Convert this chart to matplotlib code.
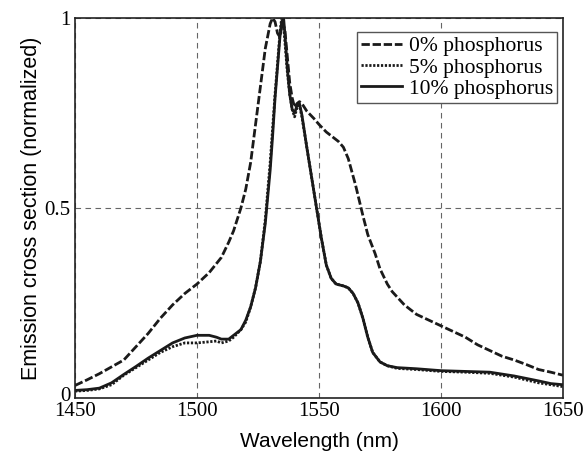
import numpy as np
import matplotlib
matplotlib.use("Agg")
import matplotlib.pyplot as plt
from matplotlib.transforms import ScaledTranslation

# 0% phosphorus
wl0 = [1450, 1455, 1460, 1465, 1470, 1475, 1480, 1485, 1490, 1495, 1500, 1505, 1510, 1513, 1515,
       1518, 1520, 1522, 1524, 1526, 1528, 1530, 1531, 1532, 1533, 1534, 1535, 1536, 1537, 1538,
       1539, 1540, 1541, 1542, 1543, 1545, 1548, 1550, 1553, 1556, 1558, 1560, 1562, 1565, 1568,
       1570, 1573, 1575, 1578, 1580, 1585, 1590, 1595, 1600, 1605, 1610, 1615, 1620, 1625, 1630,
       1635, 1640, 1645, 1650]
cs0 = [0.033, 0.048, 0.064, 0.082, 0.10, 0.135, 0.17, 0.21, 0.245, 0.275, 0.30, 0.33, 0.37, 0.41, 0.44,
       0.50, 0.55, 0.62, 0.72, 0.82, 0.92, 0.985, 1.0, 0.99, 0.96, 0.95, 0.99, 0.97, 0.90, 0.83,
       0.79, 0.765, 0.775, 0.78, 0.775, 0.755, 0.735, 0.72, 0.70, 0.685, 0.675, 0.66, 0.63, 0.56, 0.48,
       0.43, 0.38, 0.34, 0.30, 0.28, 0.245, 0.22, 0.205, 0.19, 0.175, 0.16, 0.14, 0.125, 0.11, 0.10,
       0.088, 0.075, 0.068, 0.06]

# 5% phosphorus
wl5 = [1450, 1455, 1460, 1465, 1470, 1475, 1480, 1485, 1490, 1495, 1500, 1505, 1508, 1510, 1513,
       1515, 1518, 1520, 1522, 1524, 1526, 1528, 1530, 1531, 1532, 1533, 1534, 1534.7, 1535.5, 1536,
       1537, 1538, 1539, 1540, 1541, 1542, 1543, 1545, 1547, 1549, 1551, 1553, 1555, 1557, 1560,
       1562, 1564, 1566, 1568, 1570, 1572, 1575, 1578, 1582, 1590, 1600, 1610, 1620, 1630, 1640,
       1645, 1650]
cs5 = [0.018, 0.02, 0.024, 0.035, 0.06, 0.08, 0.10, 0.12, 0.135, 0.145, 0.145, 0.148, 0.15, 0.145, 0.15,
       0.16, 0.18, 0.20, 0.24, 0.29, 0.36, 0.47, 0.62, 0.71, 0.80, 0.88, 0.96, 1.0, 0.98, 0.94,
       0.86, 0.80, 0.76, 0.74, 0.765, 0.77, 0.74, 0.66, 0.58, 0.50, 0.42, 0.35, 0.315, 0.30, 0.295,
       0.29, 0.275, 0.25, 0.21, 0.16, 0.12, 0.095, 0.085, 0.078, 0.075, 0.07, 0.068, 0.065, 0.055, 0.04,
       0.035, 0.03]

# 10% phosphorus
wl10 = wl5
cs10 = [0.02, 0.022, 0.026, 0.04, 0.062, 0.083, 0.105, 0.125, 0.145, 0.158, 0.165, 0.165, 0.16, 0.155, 0.155,
        0.165, 0.18, 0.205, 0.24, 0.29, 0.36, 0.46, 0.60, 0.69, 0.79, 0.87, 0.95, 0.99, 1.0, 0.96,
        0.87, 0.80, 0.76, 0.75, 0.77, 0.775, 0.745, 0.66, 0.58, 0.50, 0.42, 0.35, 0.315, 0.30, 0.295,
        0.29, 0.275, 0.25, 0.21, 0.16, 0.12, 0.095, 0.085, 0.08, 0.077, 0.072, 0.07, 0.068, 0.058, 0.045,
        0.038, 0.035]

labels = ["0% phosphorus", "5% phosphorus", "10% phosphorus"]
xticks = [1450, 1500, 1550, 1600, 1650]
yticks = [0, 0.5, 1]
yticklabels = ["0", "0.5", "1"]

fig = plt.figure(figsize=(5.83, 4.54), dpi=100)
ax = fig.add_axes([0.1286, 0.1233, 0.8371, 0.8370])

col = "#1a1a1a"
ax.plot(wl0, cs0, color=col, lw=2.0, linestyle=(0, (3, 1)), label=labels[0])
ax.plot(wl5, cs5, color=col, lw=2.0, linestyle=(0, (0.8, 0.6)), label=labels[1])
ax.plot(wl10, cs10, color=col, lw=2.0, linestyle="-", label=labels[2])

ax.set_xlim(1450, 1650)
ax.set_ylim(0, 1)
ax.set_xticks(xticks)
ax.set_yticks(yticks)
ax.set_yticklabels(yticklabels)
ax.tick_params(length=0, labelsize=15, pad=3)
for lab in ax.get_xticklabels() + ax.get_yticklabels():
    lab.set_fontfamily("Liberation Serif")
# nudge the y "0" label up slightly as in the reference
ylabs = ax.get_yticklabels()
ylabs[0].set_transform(ylabs[0].get_transform() + ScaledTranslation(0, 4 / 100, fig.dpi_scale_trans))
ax.grid(True, color="#666666", linestyle=(0, (5, 4)), lw=0.8)
for s in ax.spines.values():
    s.set_linewidth(1.2)
    s.set_color("#222222")

ax.set_xlabel("Wavelength (nm)", fontsize=15, family="Liberation Sans", labelpad=8)
ax.set_ylabel("Emission cross section (normalized)", fontsize=15.5, family="Liberation Sans", labelpad=2)

leg = ax.legend(loc="upper right", bbox_to_anchor=(0.988, 0.963), fancybox=False, framealpha=1,
                edgecolor="#555555", borderaxespad=0, handlelength=1.9, handletextpad=0.3,
                borderpad=0.2, labelspacing=0.05, prop={"family": "Liberation Serif", "size": 15.5})
leg.get_frame().set_linewidth(1.0)

fig.savefig("out.png", dpi=100)
